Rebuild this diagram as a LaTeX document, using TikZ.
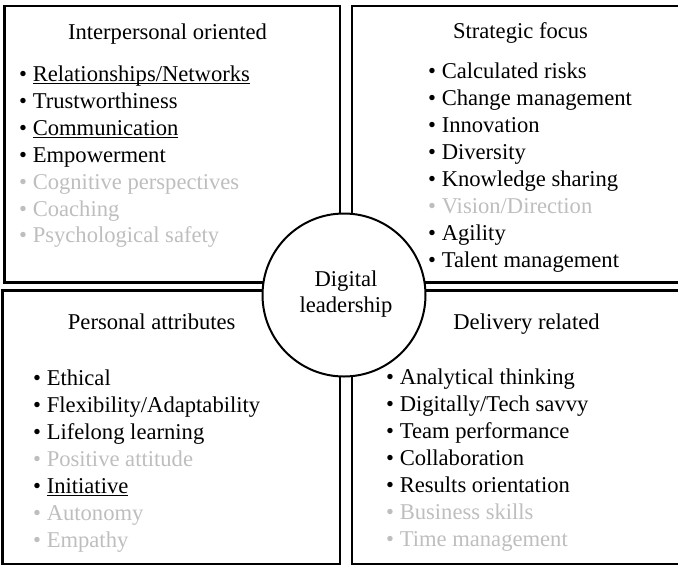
\documentclass[tikz,border=0pt]{standalone}
\usepackage{fontspec}
\setmainfont{Liberation Serif}
\definecolor{faded}{RGB}{190,190,190}
% underline that sits just under the baseline, as in a word processor
\newcommand\wordline[1]{\leavevmode\setbox0\hbox{#1}\rlap{\rule[-2.4pt]{\wd0}{0.9pt}}\box0}
\begin{document}
\begin{tikzpicture}[x=1pt,y=-1pt,
  frame/.style={draw=black,line width=2.5pt},
  hub/.style={draw=black,line width=2pt,fill=white,circle,minimum size=163pt,inner sep=0pt},
  heading/.style={anchor=base,inner sep=0pt,font=\fontsize{22.6}{27}\selectfont},
  item/.style={anchor=base west,inner sep=0pt,font=\fontsize{22.6}{27}\selectfont},
  off/.style={text=faded}]
\useasboundingbox (0,0) rectangle (678,566);
\clip (0,0) rectangle (678,566);

% four quadrant frames
\draw[frame] (4.5,6) rectangle (340,282.5);
\draw[frame] (352,6) rectangle (700,282.5);
\draw[frame] (2.5,290.5) rectangle (340,564);
\draw[frame] (352,290.5) rectangle (700,564);

% central hub
\node[hub] (hub) at (344,295) {};
\node[heading] (hubtop) at (346,286) {Digital};
\node[heading] (hubbot) at (346,312.5) {leadership};

% interpersonal oriented
\node[heading] (tlhead) at (167.5,39) {Interpersonal oriented};
\node[item] (tl1) at (19,81.5) {• \wordline{Relationships/Networks}};
\node[item] (tl2) at (19,108.4) {• Trustworthiness};
\node[item] (tl3) at (19,135.3) {• \wordline{Communication}};
\node[item] (tl4) at (19,162.2) {• Empowerment};
\node[item,off] (tl5) at (19,189.1) {• Cognitive perspectives};
\node[item,off] (tl6) at (19,216) {• Coaching};
\node[item,off] (tl7) at (19,242.9) {• Psychological safety};

% strategic focus
\node[heading] (trhead) at (520.5,38) {Strategic focus};
\node[item] (tr1) at (428,78) {• Calculated risks};
\node[item] (tr2) at (428,105.1) {• Change management};
\node[item] (tr3) at (428,132.2) {• Innovation};
\node[item] (tr4) at (428,159.3) {• Diversity};
\node[item] (tr5) at (428,186.4) {• Knowledge sharing};
\node[item,off] (tr6) at (428,213.5) {• Vision/Direction};
\node[item] (tr7) at (428,240.6) {• Agility};
\node[item] (tr8) at (428,267.7) {• Talent management};

% personal attributes
\node[heading] (blhead) at (151.7,329) {Personal attributes};
\node[item] (bl1) at (33,385) {• Ethical};
\node[item] (bl2) at (33,412) {• Flexibility/Adaptability};
\node[item] (bl3) at (33,439) {• Lifelong learning};
\node[item,off] (bl4) at (33,466) {• Positive attitude};
\node[item] (bl5) at (33,493) {• \wordline{Initiative}};
\node[item,off] (bl6) at (33,520) {• Autonomy};
\node[item,off] (bl7) at (33,547) {• Empathy};

% delivery related
\node[heading] (brhead) at (526.5,329) {Delivery related};
\node[item] (br1) at (386,384) {• Analytical thinking};
\node[item] (br2) at (386,411.1) {• Digitally/Tech savvy};
\node[item] (br3) at (386,438.2) {• Team performance};
\node[item] (br4) at (386,465.3) {• Collaboration};
\node[item] (br5) at (386,492.4) {• Results orientation};
\node[item,off] (br6) at (386,519.5) {• Business skills};
\node[item,off] (br7) at (386,546.6) {• Time management};
\end{tikzpicture}
\end{document}
